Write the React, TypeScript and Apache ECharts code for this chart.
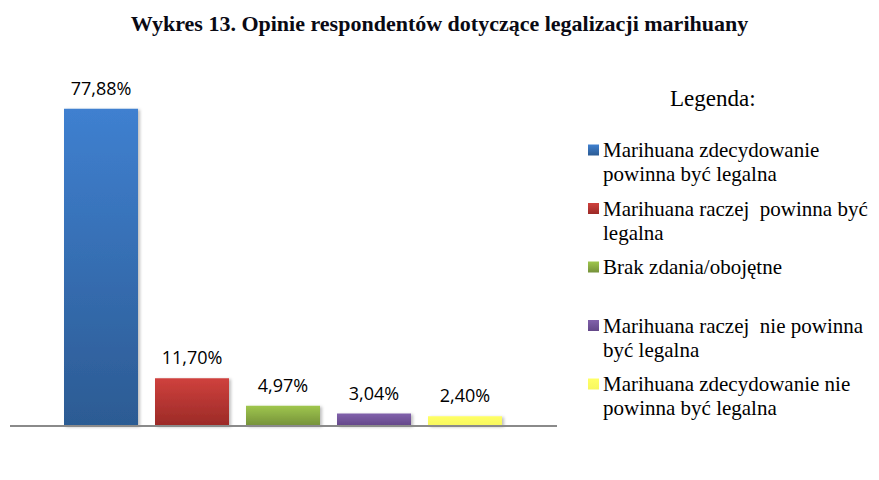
import React, { useEffect, useRef } from "react";
import * as echarts from "echarts";

const categories = ["zdecydowanie tak", "raczej tak", "brak zdania", "raczej nie", "zdecydowanie nie"];

const seriesNames = [
  "Marihuana zdecydowanie powinna być legalna",
  "Marihuana raczej powinna być legalna",
  "Brak zdania/obojętne",
  "Marihuana raczej nie powinna być legalna",
  "Marihuana zdecydowanie nie powinna być legalna",
];

// wrapped the way the legend shows them
const legendLines: string[][] = [
  ["Marihuana zdecydowanie", "powinna być legalna"],
  ["Marihuana raczej  powinna być", "legalna"],
  ["Brak zdania/obojętne"],
  ["Marihuana raczej  nie powinna", "być legalna"],
  ["Marihuana zdecydowanie nie", "powinna być legalna"],
];

const values = [77.88, 11.7, 4.97, 3.04, 2.4];

const colors: [string, string][] = [
  ["#3f80d0", "#2c5b93"],
  ["#cf413d", "#9b2a27"],
  ["#9fc64d", "#75913a"],
  ["#8161ab", "#634788"],
  ["#ffff66", "#f7f75e"],
];

const serif = "Liberation Serif";

const gradient = (i: number) =>
  new echarts.graphic.LinearGradient(0, 0, 0, 1, [
    { offset: 0, color: colors[i][0] },
    { offset: 1, color: colors[i][1] },
  ]);

const App: React.FC = () => {
  const chartRef = useRef<HTMLDivElement>(null);

  useEffect(() => {
    document.body.style.margin = "0";
    if (!chartRef.current) return;
    const chart = echarts.init(chartRef.current, null, { renderer: "svg" });

    const series = seriesNames.map((name, i) => ({
      name,
      type: "bar",
      stack: "all",
      barWidth: 74,
      data: categories.map((_, j) => (j === i ? values[i] : "-")),
      itemStyle: {
        color: gradient(i),
        shadowBlur: 3,
        shadowOffsetX: 2,
        shadowOffsetY: 1,
        shadowColor: "rgba(0,0,0,0.25)",
      },
      label: {
        show: true,
        position: "top",
        distance: 12,
        color: "#000",
        fontFamily: "Open Sans",
        fontSize: 18,
        formatter: (p: { value: number }) => p.value.toFixed(2).replace(".", ",") + "%",
      },
    }));

    // hand-made legend: icon beside the first line of each wrapped label
    const legendItems = legendLines.flatMap((lines, i) => [
      {
        type: "rect",
        shape: { x: 588, y: 144.5 + i * 58.5, width: 11, height: 11 },
        style: { fill: gradient(i) },
      },
      ...lines.map((line, k) => ({
        type: "text",
        x: 603,
        y: 150 + i * 58.5 + k * 24,
        style: {
          text: line,
          fontFamily: serif,
          fontSize: 21,
          fill: "#000",
          verticalAlign: "middle",
        },
      })),
    ]);

    chart.setOption({
      animation: false,
      title: [
        {
          text: "Wykres 13. Opinie respondentów dotyczące legalizacji marihuany",
          left: "center",
          top: 7,
          textStyle: {
            fontFamily: serif,
            fontWeight: "bold",
            fontSize: 22,
            color: "#0a0a14",
          },
        },
        {
          text: "Legenda:",
          left: 665,
          top: 82,
          textStyle: {
            fontFamily: serif,
            fontWeight: "normal",
            fontSize: 23,
            color: "#000",
          },
        },
      ],
      grid: { left: 55.5, width: 455, top: 100, height: 326 },
      xAxis: {
        type: "category",
        data: categories,
        axisLine: { show: false },
        axisTick: { show: false },
        axisLabel: { show: false },
      },
      yAxis: {
        type: "value",
        min: 0,
        max: 80,
        show: false,
        splitLine: { show: false },
      },
      graphic: [
        {
          type: "line",
          shape: { x1: 10, y1: 426, x2: 557, y2: 426 },
          style: { stroke: "#8a8a8a", lineWidth: 2 },
          z: 10,
        },
        ...legendItems,
      ],
      series,
    });

    return () => {
      chart.dispose();
    };
  }, []);

  return <div ref={chartRef} style={{ width: "879px", height: "480px" }} />;
};

export default App;
